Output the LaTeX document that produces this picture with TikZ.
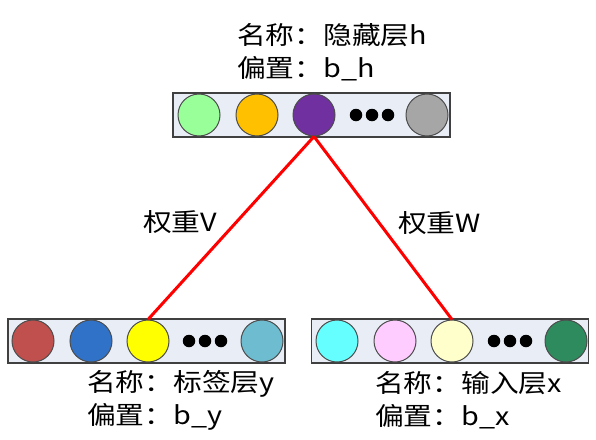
\documentclass[tikz,border=0pt]{standalone}
\usepackage{fontspec}
\usepackage{tikz}
\usetikzlibrary{positioning}
\newfontfamily\cjk[FakeStretch=1.15]{Noto Sans CJK SC}

\definecolor{layerbg}{HTML}{E8EDF6}
\definecolor{cgreen}{HTML}{99FF99}
\definecolor{corange}{HTML}{FFC000}
\definecolor{cpurple}{HTML}{7030A0}
\definecolor{cgray}{HTML}{A6A6A6}
\definecolor{cbrick}{HTML}{C0504D}
\definecolor{cblue}{HTML}{3072C8}
\definecolor{cyellow}{HTML}{FFFF00}
\definecolor{cteal}{HTML}{6DBCCF}
\definecolor{ccyan}{HTML}{66FFFF}
\definecolor{cpink}{HTML}{FFCCFF}
\definecolor{ccream}{HTML}{FFFFCC}
\definecolor{cdkgreen}{HTML}{2E8B5E}

\begin{document}
\begin{tikzpicture}[
  x=1pt, y=-1pt,
  font=\cjk\fontsize{25}{33}\selectfont,
  layer/.style = {draw=black!75, line width=1.5pt, fill=layerbg,
                  minimum width=277pt, minimum height=44pt, inner sep=0pt},
  unit/.style  = {circle, draw=black!70, line width=1pt,
                  minimum size=42pt, inner sep=0pt},
  dot/.style   = {circle, fill=black, minimum size=12.5pt, inner sep=0pt},
  wire/.style  = {red, line width=3pt},
  lbl/.style   = {align=left, anchor=west, inner sep=0pt},
]
\useasboundingbox (0,0) rectangle (596,439);

% ================= hidden layer ========================================
\node[layer] (hid) at (311.5,115) {};
\node[unit, fill=cgreen]  (h1) at (199,115) {};
\node[unit, fill=corange] (h2) at (257,115) {};
\node[unit, fill=cpurple] (h3) at (314,115) {};
\foreach \x/\n in {356/a,372/b,388/c} {\node[dot] (hd\n) at (\x,115) {};}
\node[unit, fill=cgray]   (h4) at (427,115) {};
\node[lbl] (hidtxt) at (237,52) {名称：隐藏层h\\偏置：b\_h};

% ================= label layer =========================================
\node[layer] (lab) at (146.5,341) {};
\node[unit, fill=cbrick]  (y1) at (33,341) {};
\node[unit, fill=cblue]   (y2) at (91,341) {};
\node[unit, fill=cyellow] (y3) at (148,341) {};
\foreach \x/\n in {189/a,205/b,221/c} {\node[dot] (yd\n) at (\x,341) {};}
\node[unit, fill=cteal]   (y4) at (262,341) {};
\node[lbl] (labtxt) at (87,400) {名称：标签层y\\偏置：b\_y};

% ================= input layer =========================================
\node[layer] (inp) at (450,341) {};
\node[unit, fill=ccyan]    (x1) at (337,341) {};
\node[unit, fill=cpink]    (x2) at (395,341) {};
\node[unit, fill=ccream]   (x3) at (452,341) {};
\foreach \x/\n in {494/a,510/b,526/c} {\node[dot] (xd\n) at (\x,341) {};}
\node[unit, fill=cdkgreen] (x4) at (566,341) {};
\node[lbl] (inptxt) at (375,400) {名称：输入层x\\偏置：b\_x};

% ================= weights =============================================
\draw[wire] (h3.south) -- (y3.north);
\draw[wire] (h3.south) -- (x3.north);
\node[lbl] (wv) at (143,222) {权重V};
\node[lbl] (ww) at (398,223) {权重W};

\end{tikzpicture}
\end{document}
